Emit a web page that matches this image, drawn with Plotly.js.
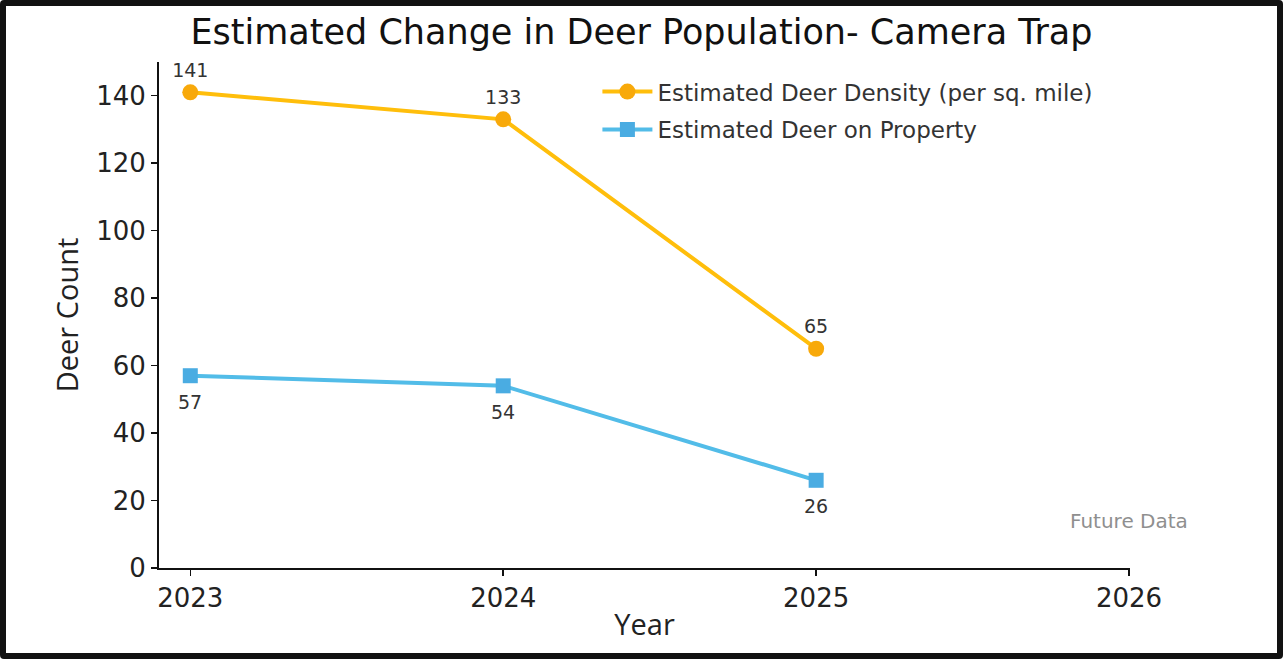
<!DOCTYPE html>
<html>
<head>
<meta charset="utf-8">
<script src="https://cdn.plot.ly/plotly-3.0.1.min.js"></script>
<style>
html,body{margin:0;padding:0;background:#fff;}
#wrap{position:relative;width:1283px;height:659px;overflow:hidden;}
#chart{position:absolute;left:0;top:0;width:1283px;height:659px;}
#frame{position:absolute;left:0;top:0;width:1283px;height:659px;box-sizing:border-box;border:6px solid #111;border-radius:4px;pointer-events:none;}
</style>
</head>
<body>
<div id="wrap"><div id="chart"></div><div id="frame"></div></div>
<script>
const years = [2023, 2024, 2025];
const densityValues = [141, 133, 65];
const propertyValues = [57, 54, 26];
const xTickValues = [2023, 2024, 2025, 2026];
const yTickValues = [0, 20, 40, 60, 80, 100, 120, 140];
const seriesNames = ["Estimated Deer Density (per sq. mile)", "Estimated Deer on Property"];
const titleText = "Estimated Change in Deer Population- Camera Trap";
const futureLabel = "Future Data";

const labelFont = {family: "DejaVu Sans", size: 19, color: "#333"};

const traces = [
  {
    x: years, y: densityValues, name: seriesNames[0], legendgroup: "a",
    mode: "lines+markers+text",
    text: densityValues.map(String),
    textposition: "top center",
    textfont: labelFont,
    line: {color: "#FFBE0B", width: 4},
    marker: {symbol: "circle", size: 16, color: "#F8A90A"},
    cliponaxis: false
  },
  {
    x: years, y: propertyValues, name: seriesNames[1], legendgroup: "b",
    mode: "lines+markers",
    line: {color: "#52BCE8", width: 4},
    marker: {symbol: "square", size: 15, color: "#4AACE2"},
    cliponaxis: false
  }
];

const bottomLabels = years.map((yr, i) => ({
  x: yr, y: propertyValues[i], xref: "x", yref: "y", text: String(propertyValues[i]),
  showarrow: false, xanchor: "center", yanchor: "middle", yshift: -26, font: labelFont
}));

const layout = {
  width: 1283, height: 659,
  margin: {l: 159, r: 153, t: 62, b: 91},
  paper_bgcolor: "#fff", plot_bgcolor: "#fff",
  title: {text: titleText, font: {family: "DejaVu Sans", size: 35, color: "#111"}, x: 0.5, xanchor: "center", y: 0.952, yanchor: "middle"},
  showlegend: true,
  legend: {x: 0.4515, y: 0.984, xanchor: "left", yanchor: "top", bgcolor: "rgba(0,0,0,0)",
    font: {family: "DejaVu Sans", size: 23, color: "#333"}, itemwidth: 50,
    traceorder: "grouped", tracegroupgap: 5},
  xaxis: {
    range: [2022.9, 2026.003], tickvals: xTickValues, ticktext: xTickValues.map(String),
    showgrid: false, zeroline: false, showline: true, linecolor: "#111", linewidth: 2,
    ticks: "outside", ticklen: 6, tickwidth: 1.5, tickcolor: "#111",
    tickfont: {family: "DejaVu Sans", size: 26, color: "#222"},
    title: {text: "Year", font: {family: "Open Sans", size: 29, color: "#222"}, standoff: 2}
  },
  yaxis: {
    range: [0, 150], tickvals: yTickValues, ticktext: yTickValues.map(String),
    showgrid: false, zeroline: false, showline: true, linecolor: "#111", linewidth: 2,
    ticks: "outside", ticklen: 6, tickwidth: 1.5, tickcolor: "#111",
    tickfont: {family: "DejaVu Sans", size: 26, color: "#222"},
    title: {text: "Deer Count", font: {family: "Open Sans", size: 29, color: "#222"}, standoff: 9}
  },
  annotations: bottomLabels.concat([
    {x: 2026, y: 14, xref: "x", yref: "y", text: futureLabel, showarrow: false,
     xanchor: "center", yanchor: "middle", font: {family: "DejaVu Sans", size: 20, color: "#8f8f8f"}}
  ])
};

Plotly.newPlot("chart", traces, layout, {displayModeBar: false, staticPlot: true});
</script>
</body>
</html>
